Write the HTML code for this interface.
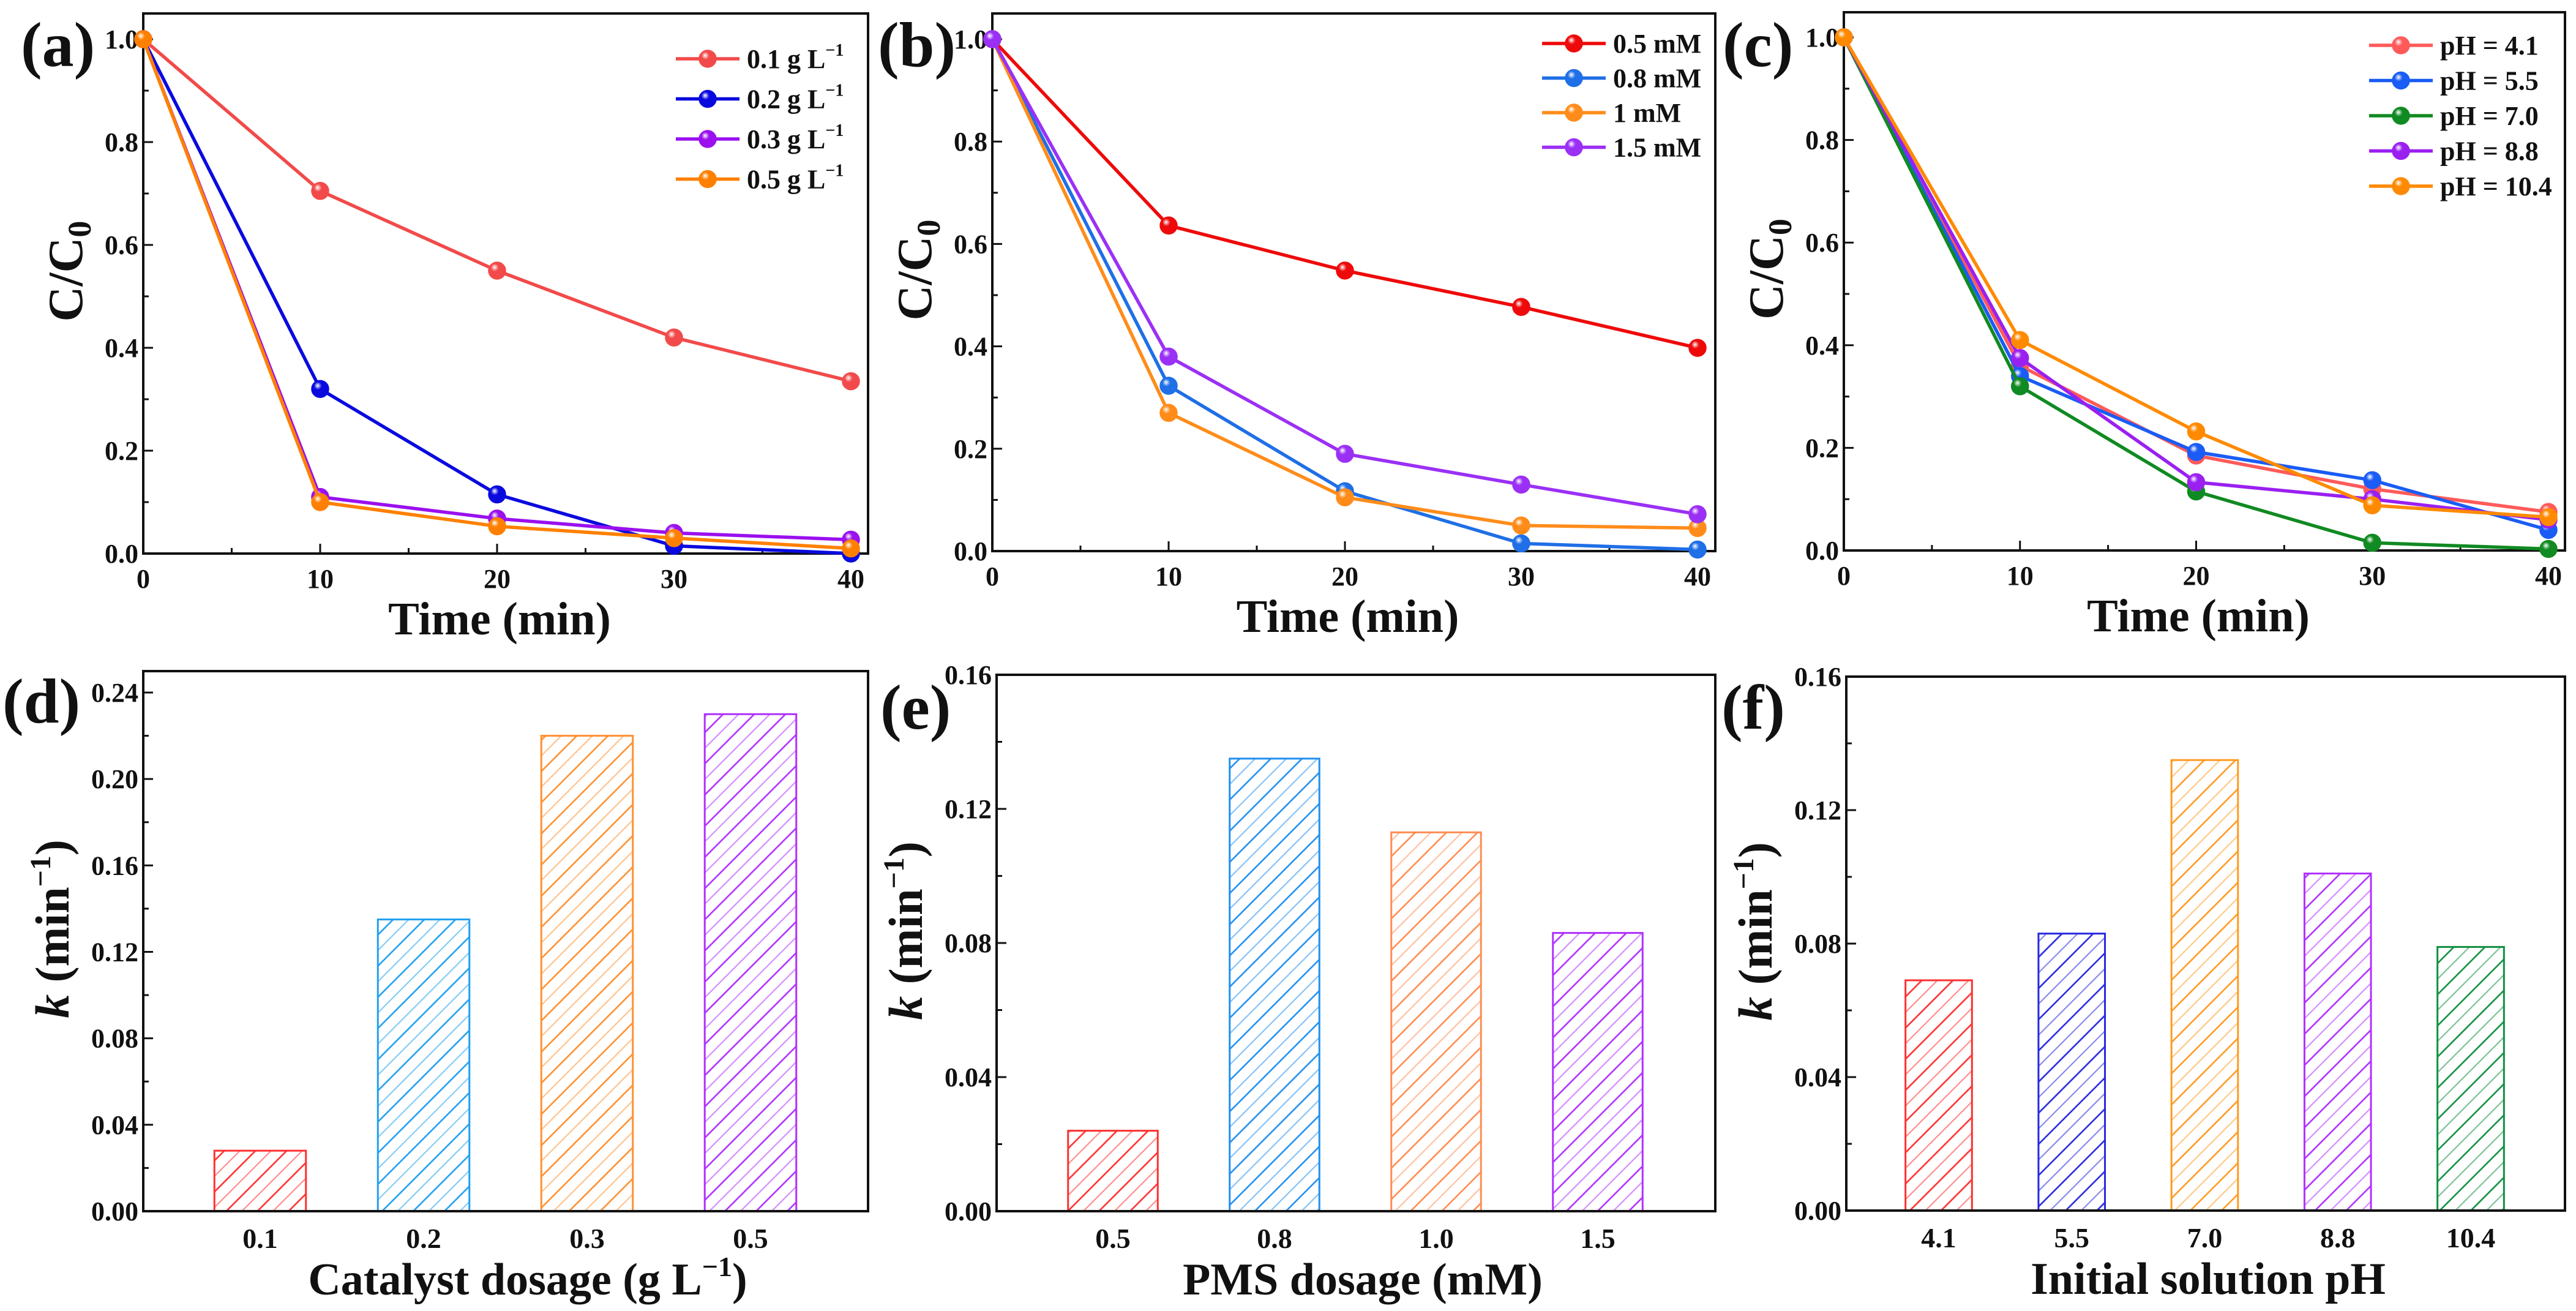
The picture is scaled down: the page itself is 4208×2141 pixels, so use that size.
<!DOCTYPE html>
<html><head><meta charset="utf-8">
<style>
html,body{margin:0;padding:0;background:#fff;}
svg{display:block;}
text{font-family:"Liberation Serif","DejaVu Serif",serif;font-weight:bold;fill:#111;}
</style></head>
<body>
<svg id="fig" width="4208" height="2141" viewBox="0 0 4208 2141" xmlns="http://www.w3.org/2000/svg">
<defs id="defs"></defs>
</svg>
<script>
// ---------- data ----------
const timePoints = [0, 10, 20, 30, 40];
const lineTicksY = [0, 0.2, 0.4, 0.6, 0.8, 1.0];
const lineTickLabelsY = ["0.0", "0.2", "0.4", "0.6", "0.8", "1.0"];
const lineTicksX = [0, 10, 20, 30, 40];

const aLabels = ["0.1 g L", "0.2 g L", "0.3 g L", "0.5 g L"];
const aRed = [1, 0.705, 0.55, 0.42, 0.335];
const aBlue = [1, 0.32, 0.115, 0.015, 0.0];
const aPurple = [1, 0.11, 0.068, 0.04, 0.027];
const aOrange = [1, 0.1, 0.053, 0.03, 0.01];

const bLabels = ["0.5 mM", "0.8 mM", "1 mM", "1.5 mM"];
const bRed = [1, 0.636, 0.548, 0.477, 0.397];
const bBlue = [1, 0.323, 0.117, 0.015, 0.003];
const bOrange = [1, 0.27, 0.105, 0.05, 0.045];
const bPurple = [1, 0.38, 0.19, 0.13, 0.072];

const cLabels = ["pH = 4.1", "pH = 5.5", "pH = 7.0", "pH = 8.8", "pH = 10.4"];
const cRed = [1, 0.36, 0.185, 0.12, 0.075];
const cBlue = [1, 0.34, 0.192, 0.137, 0.04];
const cGreen = [1, 0.32, 0.115, 0.015, 0.003];
const cPurple = [1, 0.375, 0.133, 0.1, 0.06];
const cOrange = [1, 0.41, 0.232, 0.088, 0.065];

const dCats = ["0.1", "0.2", "0.3", "0.5"];
const dVals = [0.028, 0.135, 0.22, 0.23];
const dTicks = [0, 0.04, 0.08, 0.12, 0.16, 0.20, 0.24];
const dTickLabels = ["0.00", "0.04", "0.08", "0.12", "0.16", "0.20", "0.24"];

const eCats = ["0.5", "0.8", "1.0", "1.5"];
const eVals = [0.024, 0.135, 0.113, 0.083];
const efTicks = [0, 0.04, 0.08, 0.12, 0.16];
const efTickLabels = ["0.00", "0.04", "0.08", "0.12", "0.16"];

const fCats = ["4.1", "5.5", "7.0", "8.8", "10.4"];
const fVals = [0.069, 0.083, 0.135, 0.101, 0.079];

// ---------- helpers ----------
const NS = "http://www.w3.org/2000/svg";
const svg = document.getElementById("fig");
const defs = document.getElementById("defs");
function mk(tag, attrs, parent) {
  const e = document.createElementNS(NS, tag);
  for (const k in attrs) e.setAttribute(k, attrs[k]);
  (parent || svg).appendChild(e);
  return e;
}
function lin(d0, d1, r0, r1) { return v => r0 + (v - d0) * (r1 - r0) / (d1 - d0); }

let gradId = 0;
function ballGrad(color) {
  const id = "g" + (gradId++);
  const g = mk("radialGradient", { id: id, cx: "0.4", cy: "0.35", r: "0.65", fx: "0.35", fy: "0.3" }, defs);
  mk("stop", { offset: "0", "stop-color": "#ffffff" }, g);
  mk("stop", { offset: "0.35", "stop-color": color }, g);
  mk("stop", { offset: "1", "stop-color": color }, g);
  return "url(#" + id + ")";
}
let patId = 0;
function hatch(color) {
  const id = "p" + (patId++);
  const p = mk("pattern", { id: id, patternUnits: "userSpaceOnUse", width: "36", height: "36", patternTransform: "rotate(45)" }, defs);
  mk("line", { x1: 4, y1: 0, x2: 4, y2: 36, stroke: color, "stroke-width": 2.6 }, p);
  mk("line", { x1: 22, y1: 0, x2: 22, y2: 36, stroke: color, "stroke-width": 2.2, "stroke-opacity": 0.55 }, p);
  return "url(#" + id + ")";
}

function frame(g, L, T, R, B) {
  const f = mk("rect", { x: L, y: T, width: R - L, height: B - T, fill: "none", stroke: "#111", "stroke-width": 4 }, g);
  
  
}

function panelLabel(txt, x, y) {
  const t = mk("text", { x: x, y: y, "font-size": 104 });
  t.textContent = txt;
  
  
}

function lineChart(cfg) {
  const g = mk("g", {});
  
  
  const X = lin(0, 40, cfg.L, cfg.x40);
  const Y = lin(0, 1, cfg.B, cfg.y1);
  frame(g, cfg.L, cfg.T, cfg.R, cfg.B);
  // y ticks
  for (let i = 0; i < lineTicksY.length; i++) {
    const y = Y(lineTicksY[i]);
    mk("line", { x1: cfg.L, y1: y, x2: cfg.L + 16, y2: y, stroke: "#111", "stroke-width": 3 }, g);
    const t = mk("text", { x: cfg.L - 8, y: y + 15, "font-size": 44, "text-anchor": "end" }, g);
    t.textContent = lineTickLabelsY[i];
    
    
    if (i < lineTicksY.length - 1) {
      const ym = Y((lineTicksY[i] + lineTicksY[i + 1]) / 2);
      mk("line", { x1: cfg.L, y1: ym, x2: cfg.L + 9, y2: ym, stroke: "#111", "stroke-width": 3 }, g);
    }
  }
  for (let i = 0; i < lineTicksX.length; i++) {
    const x = X(lineTicksX[i]);
    mk("line", { x1: x, y1: cfg.B, x2: x, y2: cfg.B - 16, stroke: "#111", "stroke-width": 3 }, g);
    const t = mk("text", { x: x, y: cfg.B + 56, "font-size": 44, "text-anchor": "middle" }, g);
    t.textContent = String(lineTicksX[i]);
    
    
    if (i < lineTicksX.length - 1) {
      const xm = X(lineTicksX[i] + 5);
      mk("line", { x1: xm, y1: cfg.B, x2: xm, y2: cfg.B - 9, stroke: "#111", "stroke-width": 3 }, g);
    }
  }
  // axis titles
  const xt = mk("text", { x: (cfg.L + cfg.R) / 2 - 10, y: cfg.B + 132, "font-size": 76, "text-anchor": "middle" }, g);
  xt.textContent = "Time (min)";
  
  
  const yt = mk("text", { x: 0, y: 0, "font-size": 80, "text-anchor": "middle", transform: "translate(" + (cfg.L - 100) + "," + ((cfg.T + cfg.B) / 2 - 20) + ") rotate(-90)" }, g);
  yt.innerHTML = 'C/C<tspan font-size="54" dy="14">0</tspan>';
  
  
  // series
  cfg.series.forEach((s, si) => {
    const sg = mk("g", {}, g);
    
    
    const pts = timePoints.map((t, i) => X(t) + "," + Y(s.vals[i])).join(" ");
    mk("polyline", { points: pts, fill: "none", stroke: s.color, "stroke-width": 5.5, "stroke-linejoin": "round" }, sg);
    const fill = ballGrad(s.color);
    timePoints.forEach((t, i) => {
      const c = mk("circle", { cx: X(t), cy: Y(s.vals[i]), r: 14, fill: fill, stroke: s.color, "stroke-width": 1.5 }, sg);
      
      
    });
    // legend
    const ly = cfg.legY + si * cfg.legDy;
    const lg = mk("g", {}, g);
    
    
    mk("line", { x1: cfg.legX, y1: ly, x2: cfg.legX + 104, y2: ly, stroke: s.color, "stroke-width": 5.5 }, lg);
    mk("circle", { cx: cfg.legX + 52, cy: ly, r: 14, fill: fill, stroke: s.color, "stroke-width": 1.5 }, lg);
    const lt = mk("text", { x: cfg.legX + 116, y: ly + 15, "font-size": 44 }, lg);
    lt.textContent = cfg.labels[si];
    if (cfg.sup) {
      const sp = mk("tspan", { "font-size": 28, dy: -20 }, lt);
      sp.textContent = "\u22121";
    }
  });
}

function barChart(cfg) {
  const g = mk("g", {});
  
  
  const n = cfg.cats.length;
  const X = lin(1, n, cfg.c1, cfg.cN);
  const Y = lin(0, cfg.ymax, cfg.B, cfg.ytop);
  const unit = (cfg.cN - cfg.c1) / (n - 1);
  const bw = unit * cfg.bwFrac;
  cfg.vals.forEach((v, i) => {
    const x = X(i + 1) - bw / 2;
    const y = Y(v);
    const r = mk("rect", { x: x, y: y, width: bw, height: cfg.B - y, fill: hatch(cfg.colors[i]), stroke: cfg.colors[i], "stroke-width": 3 }, g);
    
    
    const t = mk("text", { x: X(i + 1), y: cfg.B + 60, "font-size": 46, "text-anchor": "middle" }, g);
    t.textContent = cfg.cats[i];
    
    
  });
  frame(g, cfg.L, cfg.T, cfg.R, cfg.B);
  for (let i = 0; i < cfg.ticks.length; i++) {
    const y = Y(cfg.ticks[i]);
    mk("line", { x1: cfg.L, y1: y, x2: cfg.L + 16, y2: y, stroke: "#111", "stroke-width": 3 }, g);
    const t = mk("text", { x: cfg.L - 8, y: y + 15, "font-size": 44, "text-anchor": "end" }, g);
    t.textContent = cfg.tickLabels[i];
    
    
    if (i < cfg.ticks.length - 1) {
      const ym = Y((cfg.ticks[i] + cfg.ticks[i + 1]) / 2);
      mk("line", { x1: cfg.L, y1: ym, x2: cfg.L + 9, y2: ym, stroke: "#111", "stroke-width": 3 }, g);
    }
  }
  const xt = mk("text", { x: cfg.titleX, y: cfg.B + 136, "font-size": 74, "text-anchor": "middle" }, g);
  xt.innerHTML = cfg.xTitle;
  
  
  const yt = mk("text", { x: 0, y: 0, "font-size": 78, "text-anchor": "middle", transform: "translate(" + (cfg.L - 122) + "," + ((cfg.T + cfg.B) / 2 - 20) + ") rotate(-90)" }, g);
  yt.innerHTML = '<tspan font-style="italic">k</tspan> (min<tspan font-size="48" dy="-30">\u22121</tspan><tspan dy="30">)</tspan>';
  
  
}

// ---------- panels ----------
lineChart({ name: "panel-a-chart", L: 234, R: 1418, T: 22, B: 904, x40: 1390, y1: 64,
  labels: aLabels, sup: true, legX: 1104, legY: 96, legDy: 65.5,
  series: [{ vals: aRed, color: "#f24a4a" }, { vals: aBlue, color: "#0a0adf" }, { vals: aPurple, color: "#9a10ee" }, { vals: aOrange, color: "#ff8000" }] });
lineChart({ name: "panel-b-chart", L: 1621, R: 2802, T: 22, B: 900, x40: 2773, y1: 64,
  labels: bLabels, sup: false, legX: 2519, legY: 71, legDy: 56.5,
  series: [{ vals: bRed, color: "#ee0a0a" }, { vals: bBlue, color: "#1f6fe6" }, { vals: bOrange, color: "#ff8c1a" }, { vals: bPurple, color: "#9b30f5" }] });
lineChart({ name: "panel-c-chart", L: 3012, R: 4190, T: 20, B: 899, x40: 4163, y1: 61,
  labels: cLabels, sup: false, legX: 3870, legY: 74, legDy: 57.5,
  series: [{ vals: cRed, color: "#ff5a5a" }, { vals: cBlue, color: "#1a5cf5" }, { vals: cGreen, color: "#108a22" }, { vals: cPurple, color: "#9a20f0" }, { vals: cOrange, color: "#ff8a00" }] });

barChart({ name: "panel-d-chart", L: 234, R: 1418, T: 1096, B: 1978, ytop: 1131, ymax: 0.24, c1: 425, cN: 1226, bwFrac: 0.56,
  cats: dCats, vals: dVals, ticks: dTicks, tickLabels: dTickLabels, colors: ["#ff3030", "#20a0f0", "#ff9030", "#b030ff"],
  titleX: 862, xTitle: 'Catalyst dosage (g L<tspan font-size="46" dy="-30">\u22121</tspan><tspan dy="30">)</tspan>' });
barChart({ name: "panel-e-chart", L: 1628, R: 2802, T: 1102, B: 1978, ytop: 1102, ymax: 0.16, c1: 1818, cN: 2610, bwFrac: 0.555,
  cats: eCats, vals: eVals, ticks: efTicks, tickLabels: efTickLabels, colors: ["#ff3030", "#2090f0", "#ff8c50", "#b030ff"],
  titleX: 2226, xTitle: 'PMS dosage (mM)' });
barChart({ name: "panel-f-chart", L: 3016, R: 4190, T: 1105, B: 1977, ytop: 1105, ymax: 0.16, c1: 3167, cN: 4036, bwFrac: 0.5,
  cats: fCats, vals: fVals, ticks: efTicks, tickLabels: efTickLabels, colors: ["#ff3030", "#2828e0", "#ff9a20", "#b030ff", "#109040"],
  titleX: 3607, xTitle: 'Initial solution pH' });

panelLabel("(a)", 34, 108);
panelLabel("(b)", 1434, 108);
panelLabel("(c)", 2814, 108);
panelLabel("(d)", 4, 1180);
panelLabel("(e)", 1438, 1190);
panelLabel("(f)", 2812, 1190);
</script>
</body></html>
